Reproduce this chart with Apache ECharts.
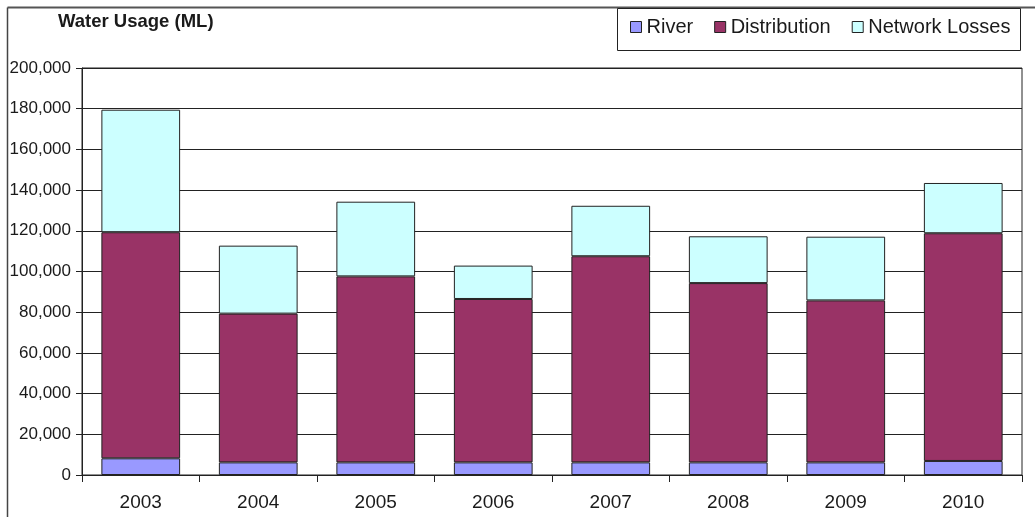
<!DOCTYPE html>
<html>
<head>
<meta charset="utf-8">
<title>Water Usage (ML)</title>
<script src="https://cdn.jsdelivr.net/npm/echarts@6/dist/echarts.min.js"></script>
<style>
  html, body { margin: 0; padding: 0; background: #fff; }
  #chart { width: 1035px; height: 517px; }
</style>
</head>
<body>
<div id="chart"></div>
<script>
// Annual water usage (megalitres), stacked by component
const years = ['2003', '2004', '2005', '2006', '2007', '2008', '2009', '2010'];
const river = [8200, 6200, 6200, 6200, 6200, 6200, 6200, 6900];
const distribution = [111100, 73100, 91400, 80300, 101300, 88100, 79600, 111900];
const networkLosses = [60200, 33400, 36700, 16400, 24800, 23000, 31300, 24700];

const yMin = 0, yMax = 200000, yStep = 20000;

const FONT = '"Liberation Sans", Arial, sans-serif';
const INK = '#1a1a1a';

const chart = echarts.init(document.getElementById('chart'), null, { renderer: 'canvas' });

function barSeries(name, data, color) {
  return {
    name: name,
    type: 'bar',
    stack: 'usage',
    data: data,
    barWidth: '67%',
    itemStyle: { color: color, borderColor: '#222', borderWidth: 1 },
    emphasis: { disabled: true },
    animation: false
  };
}

chart.setOption({
  animation: false,
  backgroundColor: '#fff',
  textStyle: { fontFamily: FONT },
  graphic: [
    // outer chart frame (top and left edges visible)
    { type: 'line', shape: { x1: 7.5, y1: 7.5, x2: 1035, y2: 7.5 }, style: { stroke: '#555', lineWidth: 2 }, z: 0 },
    { type: 'line', shape: { x1: 7.5, y1: 7.5, x2: 7.5, y2: 517 }, style: { stroke: '#444', lineWidth: 1.5 }, z: 0 },
    // legend box
    { type: 'rect', shape: { x: 617.5, y: 8.5, width: 403, height: 42 }, style: { fill: '#fff', stroke: '#222', lineWidth: 1 }, z: 1 },
    // title
    { type: 'text', left: 58, top: 12, style: { text: 'Water Usage (ML)', font: 'bold 18.5px ' + FONT, fill: INK }, z: 2 }
  ],
  legend: {
    left: 625,
    top: 12,
    itemWidth: 11,
    itemHeight: 11,
    itemGap: 21,
    icon: 'rect',
    selectedMode: false,
    textStyle: { fontSize: 20, color: INK, fontFamily: FONT },
    itemStyle: { borderColor: '#222', borderWidth: 1 },
    data: ['River', 'Distribution', 'Network Losses'],
    z: 5
  },
  grid: {
    left: 82,
    right: 13,
    top: 68,
    bottom: 42,
    show: true,
    borderColor: '#222',
    borderWidth: 1,
    containLabel: false
  },
  xAxis: {
    type: 'category',
    data: years,
    axisLine: { lineStyle: { color: '#222', width: 1 } },
    axisTick: { show: true, length: 7, alignWithLabel: false, lineStyle: { color: '#222' } },
    axisLabel: { fontSize: 19, color: INK, margin: 18, fontFamily: FONT },
    splitLine: { show: false }
  },
  yAxis: {
    type: 'value',
    min: yMin,
    max: yMax,
    interval: yStep,
    axisLine: { show: true, lineStyle: { color: '#222', width: 1 } },
    axisTick: { show: true, length: 6, lineStyle: { color: '#222' } },
    axisLabel: {
      fontSize: 17,
      color: INK,
      margin: 11,
      fontFamily: FONT,
      formatter: v => v.toLocaleString('en-US')
    },
    splitLine: { show: true, lineStyle: { color: '#222', width: 1 } }
  },
  series: [
    barSeries('River', river, '#9999ff'),
    barSeries('Distribution', distribution, '#993366'),
    barSeries('Network Losses', networkLosses, '#ccffff')
  ]
});
</script>
</body>
</html>
